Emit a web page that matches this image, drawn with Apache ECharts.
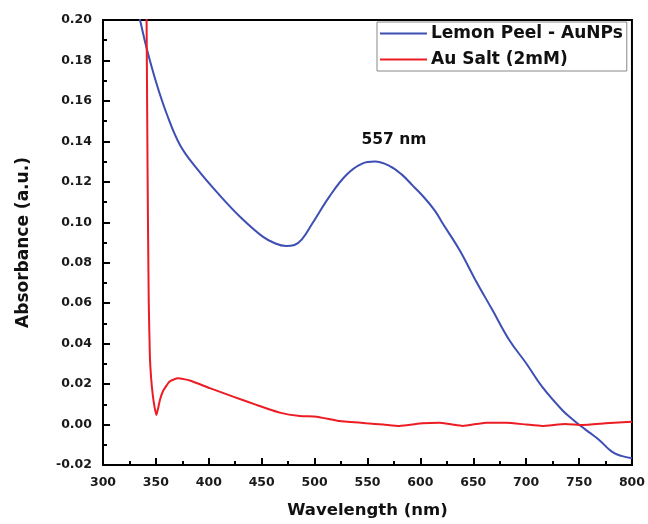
<!DOCTYPE html>
<html>
<head>
<meta charset="utf-8">
<script src="https://cdn.jsdelivr.net/npm/echarts@6/dist/echarts.min.js"></script>
<style>
html,body{margin:0;padding:0;background:#fff;}
#chart{width:648px;height:524px;}
</style>
</head>
<body>
<div id="chart"></div>
<script>
// Wavelength (nm) / absorbance pairs
var lemonPeelAuNPs = [
  [330,0.2105],[335,0.200],[341,0.1865],[350.5,0.1687],[360,0.1539],[372.5,0.1385],[388,0.1270],
  [410,0.1135],[430,0.1025],[451,0.0929],[463,0.0895],[473,0.0883],[481,0.0888],[488,0.0915],
  [498,0.0995],[514,0.1127],[530,0.1234],[545,0.1290],[557,0.1300],[571,0.1278],[582,0.1238],
  [593,0.1180],[604,0.1120],[614,0.1055],[621,0.0995],[637,0.0863],[652,0.0715],[668,0.0567],
  [684,0.0418],[700,0.0303],[715,0.0187],[734,0.0072],[744,0.0025],[751,-0.0005],[760,-0.0040],
  [769,-0.0076],[781,-0.0134],[790,-0.0155],[800,-0.0167]
];
var auSalt = [
  [340.6,0.25],[341.2,0.200],[342.2,0.120],[343.2,0.062],[344.3,0.034],[345.5,0.023],[347,0.0148],
  [348.8,0.0085],[350.5,0.0047],[352,0.0078],[354,0.0125],[357,0.0168],[363,0.0213],[371,0.0229],
  [382,0.0218],[401,0.018],[423,0.0138],[445,0.0097],[467,0.0059],[486,0.0042],[502,0.0039],
  [524,0.0017],[549,0.0006],[565,0.000],[580,-0.0007],[602,0.0006],[618,0.0009],[630,0.000],
  [640,-0.0007],[662,0.0009],[681,0.0009],[700,0.000],[715,-0.0007],[737,0.0003],[753,-0.0002],
  [775,0.0006],[800,0.0014]
];
var seriesNames = ['Lemon Peel - AuNPs', 'Au Salt (2mM)'];
var peakLabel = '557 nm';
var peakLabelAt = [575, 0.1405];

var FONT = '"DejaVu Sans", Verdana, sans-serif';
var chart = echarts.init(document.getElementById('chart'), null, {renderer: 'canvas'});
chart.setOption({
  animation: false,
  backgroundColor: '#fff',
  grid: {left: 103, right: 15, top: 20, bottom: 59, show: true, borderColor: '#000', borderWidth: 2, backgroundColor: 'transparent'},
  legend: {
    orient: 'vertical', left: 377, top: 22,
    padding: [3, 4, 3, 3], itemGap: 9,
    itemWidth: 47, itemHeight: 2, icon: 'rect',
    borderColor: '#888', borderWidth: 1,
    textStyle: {fontFamily: FONT, fontWeight: 'bold', fontSize: 17, color: '#111', padding: [0,0,0,-1]},
    data: seriesNames
  },
  xAxis: {
    type: 'value', min: 300, max: 800, interval: 50,
    name: 'Wavelength (nm)', nameLocation: 'middle', nameGap: 37,
    nameTextStyle: {fontFamily: FONT, fontWeight: 'bold', fontSize: 16.5, color: '#111'},
    axisLine: {show: true, onZero: false, lineStyle: {color: '#000', width: 2}},
    axisTick: {show: true, inside: true, length: 7, lineStyle: {color: '#000', width: 2}},
    minorTick: {show: true, splitNumber: 2, length: 4, lineStyle: {color: '#000', width: 2}},
    splitLine: {show: false},
    axisLabel: {fontFamily: FONT, fontWeight: 'bold', fontSize: 12.5, color: '#1a1a1a', margin: 11}
  },
  yAxis: {
    type: 'value', min: -0.02, max: 0.20, interval: 0.02,
    name: 'Absorbance (a.u.)', nameLocation: 'middle', nameGap: 71,
    nameTextStyle: {fontFamily: FONT, fontWeight: 'bold', fontSize: 17, color: '#111'},
    axisLine: {show: true, onZero: false, lineStyle: {color: '#000', width: 2}},
    axisTick: {show: true, inside: true, length: 7, lineStyle: {color: '#000', width: 2}},
    minorTick: {show: true, splitNumber: 2, length: 4, lineStyle: {color: '#000', width: 2}},
    splitLine: {show: false},
    axisLabel: {fontFamily: FONT, fontWeight: 'bold', fontSize: 12.5, color: '#1a1a1a', margin: 11,
      formatter: function (v) { return v.toFixed(2); }}
  },
  series: [
    {
      name: seriesNames[0], type: 'line', data: lemonPeelAuNPs, showSymbol: false, symbol: 'none',
      smooth: 0.4, clip: true,
      lineStyle: {color: '#3d4fb3', width: 2}, itemStyle: {color: '#3d4fb3'},
      markPoint: {
        symbol: 'circle', symbolSize: 0, silent: true,
        label: {show: true, position: 'inside', formatter: peakLabel, fontFamily: FONT, fontWeight: 'bold', fontSize: 15.5, color: '#111'},
        data: [{coord: peakLabelAt}]
      }
    },
    {
      name: seriesNames[1], type: 'line', data: auSalt, showSymbol: false, symbol: 'none',
      smooth: 0.15, clip: true,
      lineStyle: {color: '#ec1c24', width: 2}, itemStyle: {color: '#ec1c24'}
    }
  ]
});
</script>
</body>
</html>
